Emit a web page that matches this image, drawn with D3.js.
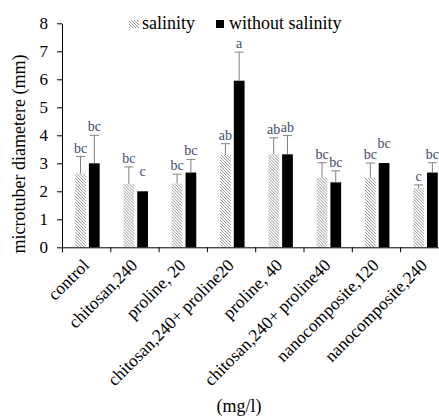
<!DOCTYPE html>
<html>
<head>
<meta charset="utf-8">
<script src="https://cdn.jsdelivr.net/npm/d3@7"></script>
<style>
  body { margin: 0; background: #fff; }
</style>
</head>
<body>
<div id="chart"></div>
<script>
var categories = ["control", "chitosan,240", "proline, 20", "chitosan,240+ proline20",
  "proline, 40", "chitosan,240+ proline40", "nanocomposite,120", "nanocomposite,240"];
var series = ["salinity", "without salinity"];

var salinity = [2.64, 2.26, 2.28, 3.29, 3.32, 2.49, 2.47, 2.12];
var salinityErr = [0.60, 0.61, 0.33, 0.41, 0.59, 0.53, 0.54, 0.11];
var salinityLetters = ["bc", "bc", "bc", "ab", "ab", "bc", "bc", "c"];

var without = [3.0, 2.0, 2.67, 5.95, 3.32, 2.32, 3.01, 2.67];
var withoutErr = [1.0, 0, 0.47, 1.02, 0.67, 0.41, 0, 0.35];
var withoutLetters = ["bc", "c", "bc", "a", "ab", "bc", "bc", "bc"];

var yTicks = [0, 1, 2, 3, 4, 5, 6, 7, 8];

var serif = "Liberation Serif";

var svg = d3.select("#chart")
    .append("svg")
    .attr("width", 439)
    .attr("height", 417)
    .attr("font-family", serif);

var defs = svg.append("defs");
var pat = defs.append("pattern")
    .attr("id", "hatch")
    .attr("patternUnits", "userSpaceOnUse")
    .attr("width", 3)
    .attr("height", 3);
pat.append("rect").attr("width", 3).attr("height", 3).attr("fill", "#fff");
pat.append("path")
    .attr("d", "M0,0L3,3M-1,2L1,4M2,-1L4,1")
    .attr("stroke", "#7a7a7a")
    .attr("stroke-width", 0.8);

var plot = {left: 62, right: 448.4, top: 23.3, bottom: 247.3};

var x = d3.scaleBand()
    .domain(categories)
    .range([plot.left, plot.right])
    .padding(0);

// offsets of the two bars around the category centre
var x1 = d3.scaleBand()
    .domain(series)
    .range([-11, 13.5])
    .paddingInner(0.22);

var y = d3.scaleLinear()
    .domain([0, 8])
    .range([plot.bottom, plot.top]);

var rows = categories.map(function(c, i) {
  return [
    {key: "salinity", cat: c, v: salinity[i], e: salinityErr[i], l: salinityLetters[i]},
    {key: "without salinity", cat: c, v: without[i], e: withoutErr[i], l: withoutLetters[i]}
  ];
});

var g = svg.append("g");

var groups = g.selectAll(".cat")
    .data(rows)
  .enter().append("g")
    .attr("class", "cat")
    .attr("transform", function(d) {
      return "translate(" + (x(d[0].cat) + x.bandwidth() / 2) + ",0)"; });

var bars = groups.selectAll(".bar")
    .data(function(d) { return d; })
  .enter().append("g")
    .attr("class", "bar");

bars.append("rect")
    .attr("x", function(d) { return x1(d.key); })
    .attr("width", x1.bandwidth())
    .attr("y", function(d) { return y(d.v); })
    .attr("height", function(d) { return plot.bottom - y(d.v); })
    .attr("fill", function(d) { return d.key === "salinity" ? "url(#hatch)" : "#000"; });

// error bars (upper only)
var err = bars.filter(function(d) { return d.e > 0; });
err.append("line")
    .attr("x1", function(d) { return x1(d.key) + x1.bandwidth() / 2; })
    .attr("x2", function(d) { return x1(d.key) + x1.bandwidth() / 2; })
    .attr("y1", function(d) { return y(d.v); })
    .attr("y2", function(d) { return y(d.v + d.e); })
    .attr("stroke", "#808080")
    .attr("stroke-width", 1);
err.append("line")
    .attr("x1", function(d) { return x1(d.key) + x1.bandwidth() / 2 - 4.5; })
    .attr("x2", function(d) { return x1(d.key) + x1.bandwidth() / 2 + 4.5; })
    .attr("y1", function(d) { return y(d.v + d.e); })
    .attr("y2", function(d) { return y(d.v + d.e); })
    .attr("stroke", "#808080")
    .attr("stroke-width", 1);

bars.append("text")
    .attr("x", function(d) { return x1(d.key) + x1.bandwidth() / 2; })
    .attr("y", function(d) { return y(d.v + d.e) - (d.e > 0 ? 4 : 15); })
    .attr("text-anchor", "middle")
    .attr("font-family", serif)
    .attr("font-size", 14)
    .attr("fill", "#3e4b6c")
    .text(function(d) { return d.l; });

// y axis
var yAxis = g.append("g")
    .attr("transform", "translate(" + plot.left + ",0)")
    .call(d3.axisLeft(y).tickValues(yTicks).tickSize(5).tickSizeOuter(0).tickPadding(9))
    .attr("font-family", serif)
    .attr("font-size", 17);
yAxis.selectAll("text").attr("fill", "#000");
yAxis.select(".domain").attr("stroke", "#000");
yAxis.selectAll(".tick line").attr("stroke", "#000");

// x axis, ticks at category boundaries
var xb = d3.scaleLinear().domain([0, categories.length]).range([plot.left, plot.right]);
var xAxis = g.append("g")
    .attr("transform", "translate(0," + plot.bottom + ")")
    .call(d3.axisBottom(xb).ticks(categories.length).tickFormat("").tickSize(5).tickSizeOuter(0));
xAxis.select(".domain").attr("stroke", "#000");
xAxis.selectAll(".tick line").attr("stroke", "#000");

g.selectAll(".xlab")
    .data(categories)
  .enter().append("text")
    .attr("class", "xlab")
    .attr("transform", function(d) {
      return "translate(" + (x(d) + x.bandwidth() / 2 + 4) + "," + (plot.bottom + 19) + ") rotate(-45)"; })
    .attr("text-anchor", "end")
    .attr("font-family", serif)
    .attr("font-size", 17.5)
    .attr("fill", "#000")
    .text(function(d) { return d; });

svg.append("text")
    .attr("x", 239)
    .attr("y", 412)
    .attr("text-anchor", "middle")
    .attr("font-family", serif)
    .attr("font-size", 18)
    .text("(mg/l)");

svg.append("text")
    .attr("transform", "translate(25,154) rotate(-90)")
    .attr("text-anchor", "middle")
    .attr("font-family", serif)
    .attr("font-size", 18)
    .text("microtuber diametere (mm)");

// legend
var legend = svg.append("g");
legend.append("rect")
    .attr("x", 129).attr("y", 20).attr("width", 10).attr("height", 8)
    .attr("fill", "url(#hatch)");
legend.append("text")
    .attr("x", 142).attr("y", 29)
    .attr("font-family", serif)
    .attr("font-size", 18)
    .text(series[0]);
legend.append("rect")
    .attr("x", 216).attr("y", 20).attr("width", 8).attr("height", 8)
    .attr("fill", "#000");
legend.append("text")
    .attr("x", 229).attr("y", 29)
    .attr("font-family", serif)
    .attr("font-size", 18)
    .text(series[1]);
</script>
</body>
</html>
